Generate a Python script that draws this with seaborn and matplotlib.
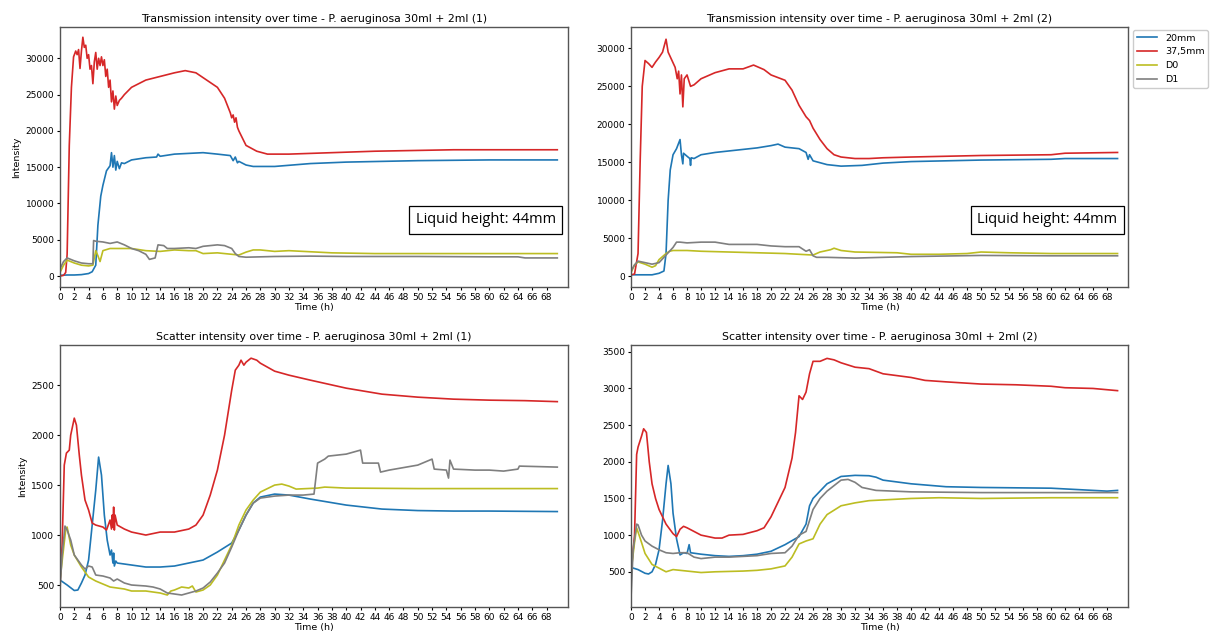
import pandas as pd
import seaborn as sns
import matplotlib
matplotlib.use("Agg")
import matplotlib.pyplot as plt

# ---- series labels / colours ----
series_names = ["20mm", "37,5mm", "D0", "D1"]
series_colors = ["#1f77b4", "#d62728", "#bcbd22", "#7f7f7f"]

# ---- Transmission (1) ----
tr1_20mm_t = [0, 1, 2, 3, 4, 4.5, 5, 5.3, 5.7, 6, 6.5, 7, 7.2, 7.4, 7.6, 7.8, 8, 8.3, 8.6, 9, 10, 12, 13.5, 13.7, 14, 16, 18, 20, 22, 23.8, 24.2, 24.5, 24.8, 25, 26, 27, 30, 35, 40, 50, 60, 69.5]
tr1_20mm_y = [100, 150, 150, 200, 350, 600, 1500, 7000, 11000, 12500, 14500, 15200, 17000, 15000, 16600, 14600, 15800, 14800, 15600, 15500, 16000, 16300, 16400, 16800, 16500, 16800, 16900, 17000, 16800, 16600, 15900, 16400, 15600, 15800, 15300, 15100, 15100, 15500, 15700, 15900, 16000, 16000]
tr1_375_t = [0, 0.5, 0.8, 1.0, 1.3, 1.6, 1.9, 2.2, 2.4, 2.6, 2.8, 3.0, 3.2, 3.4, 3.6, 3.8, 4.0, 4.2, 4.4, 4.6, 4.8, 5.0, 5.2, 5.4, 5.6, 5.8, 6.0, 6.2, 6.4, 6.6, 6.8, 7.0, 7.2, 7.4, 7.6, 7.8, 8.0, 8.3, 8.6, 9, 10, 12, 14, 16, 17.5, 19, 20.5, 22, 23, 23.8, 24.0, 24.2, 24.4, 24.6, 24.8, 25, 26, 27.5, 29, 32, 38, 44, 55, 69.5]
tr1_375_y = [0, 100, 500, 3000, 18000, 26000, 30200, 31000, 30500, 31200, 28600, 31000, 32900, 31500, 31800, 30000, 30500, 28500, 29000, 26500, 29500, 30800, 28500, 30000, 29000, 30200, 29000, 29800, 27500, 28500, 26000, 27000, 24000, 25500, 23000, 24800, 23500, 24200, 24500, 25000, 26000, 27000, 27500, 28000, 28300, 28000, 27000, 26000, 24500, 22500, 21800, 22200, 21200, 21800, 20500, 20000, 18000, 17200, 16800, 16800, 17000, 17200, 17400, 17400]
tr1_d0_t = [0, 0.5, 1, 2, 3, 4, 4.6, 5, 5.3, 5.6, 6, 7, 8, 10, 12, 14, 16, 18, 19, 20, 22, 24, 25, 26, 27, 28, 30, 32, 34, 38, 44, 50, 69.5]
tr1_d0_y = [500, 1500, 2200, 1800, 1500, 1400, 1500, 3500, 2800, 2000, 3500, 3800, 3800, 3800, 3500, 3400, 3600, 3500, 3500, 3100, 3200, 3000, 2900, 3300, 3600, 3600, 3400, 3500, 3400, 3200, 3100, 3100, 3100]
tr1_d1_t = [0, 0.5, 1, 2, 3, 4, 4.6, 4.7, 5, 6, 7, 8, 9, 10, 11, 12, 12.5, 13.3, 13.7, 14.5, 15, 16, 18, 19, 20, 22, 23, 24, 24.5, 25, 26, 30, 35, 40, 50, 60, 64, 65, 69.5]
tr1_d1_y = [1000, 2000, 2500, 2100, 1800, 1700, 1700, 4900, 4800, 4700, 4500, 4700, 4300, 3800, 3500, 3000, 2300, 2500, 4300, 4200, 3800, 3800, 3900, 3800, 4100, 4300, 4200, 3800, 3100, 2700, 2600, 2700, 2750, 2700, 2700, 2650, 2650, 2500, 2500]

# ---- Transmission (2) ----
tr2_20mm_t = [0, 3, 4, 4.7, 5, 5.3, 5.6, 6, 6.5, 7, 7.2, 7.4, 7.5, 8, 8.4, 8.5, 8.6, 9, 10, 12, 14, 16, 18, 20, 21, 22, 24, 25, 25.3, 25.5, 26, 28, 30, 33, 36, 40, 45, 50, 60, 62, 69.5]
tr2_20mm_y = [200, 200, 400, 700, 3000, 10000, 14000, 16000, 16800, 18000, 16000, 14800, 16200, 15800, 15500, 14600, 15600, 15500, 16000, 16300, 16500, 16700, 16900, 17200, 17400, 17000, 16800, 16300, 15400, 16000, 15200, 14700, 14500, 14600, 14900, 15100, 15200, 15300, 15400, 15500, 15500]
tr2_375_t = [0, 0.5, 1, 1.3, 1.6, 2, 2.5, 3, 3.5, 4, 4.5, 5, 5.3, 5.8, 6.3, 6.6, 6.8, 7.0, 7.2, 7.4, 7.6, 8, 8.5, 9, 10, 12, 14, 16, 17.5, 19, 20, 22, 23, 24, 25, 25.5, 26, 27, 28, 29, 30, 32, 34, 36, 40, 50, 60, 62, 69.5]
tr2_375_y = [200, 300, 3000, 15000, 25000, 28400, 28000, 27500, 28200, 28800, 29500, 31200, 29500, 28500, 27500, 26000, 27000, 24000, 26500, 22300, 26000, 26500, 25000, 25200, 26000, 26800, 27300, 27300, 27800, 27200, 26500, 25800, 24500, 22500, 21000, 20500, 19500, 18000, 16800, 16000, 15700, 15500, 15500, 15600, 15700, 15900, 16000, 16200, 16300]
tr2_d0_t = [0, 0.5, 1, 2, 3, 3.5, 4, 5, 5.5, 6, 8, 10, 14, 18, 22, 24, 26, 27, 28.5, 29, 30, 32, 38, 40, 44, 48, 50, 54, 60, 69.5]
tr2_d0_y = [500, 1500, 1900, 1600, 1200, 1400, 2200, 3000, 3300, 3400, 3400, 3300, 3200, 3100, 3000, 2900, 2800, 3200, 3500, 3700, 3400, 3200, 3100, 2900, 2900, 3000, 3200, 3100, 3000, 3000]
tr2_d1_t = [0, 0.5, 1, 2, 3, 4, 5, 6, 6.5, 7, 8, 10, 12, 14, 18, 20, 22, 24, 25, 25.5, 26, 26.5, 28, 32, 36, 40, 50, 60, 69.5]
tr2_d1_y = [700, 1500, 2000, 1800, 1600, 1800, 2800, 3800, 4500, 4500, 4400, 4500, 4500, 4200, 4200, 4000, 3900, 3900, 3300, 3500, 2700, 2500, 2500, 2400, 2500, 2600, 2750, 2700, 2700]

# ---- Scatter (1) ----
sc1_20mm_t = [0, 1, 2, 2.5, 3, 3.5, 4, 4.5, 5, 5.4, 5.8, 6.2, 6.6, 7, 7.2, 7.4, 7.5, 7.6, 7.8, 8, 10, 12, 14, 16, 18, 20, 22, 24, 25, 26, 27, 28, 30, 32, 35, 40, 45, 50, 55, 60, 69.5]
sc1_20mm_y = [550, 500, 445, 450, 520, 600, 750, 1100, 1450, 1780, 1600, 1200, 950, 800, 850, 720, 820, 690, 740, 720, 700, 680, 680, 690, 720, 750, 830, 920, 1050, 1200, 1320, 1380, 1410, 1400, 1360, 1300, 1260, 1245, 1240, 1240, 1235]
sc1_375_t = [0, 0.3, 0.6, 0.9, 1.3, 1.5, 2.0, 2.3, 2.7, 3.0, 3.5, 4, 4.5, 5, 6, 6.5, 7, 7.2, 7.3, 7.4, 7.5, 7.6, 7.7, 8, 9, 10, 12, 14, 16, 18, 19, 20, 21, 22, 23, 24, 24.5, 25, 25.3, 25.7, 26, 26.7, 27.5, 28, 30, 32, 35, 40, 45, 50, 55, 60, 65, 69.5]
sc1_375_y = [500, 900, 1700, 1820, 1850, 2000, 2170, 2100, 1800, 1600, 1350, 1250, 1120, 1100, 1080, 1050, 1150, 1060, 1200, 1080, 1280, 1050, 1200, 1100, 1060, 1030, 1000, 1030, 1030, 1060, 1100, 1200, 1400, 1650, 2000, 2450, 2650, 2700, 2750, 2700, 2730, 2770, 2750, 2720, 2640, 2600, 2550, 2470, 2410, 2380, 2360, 2350, 2345, 2335]
sc1_d0_t = [0, 0.4, 0.8, 1, 1.5, 2, 3, 4, 5, 6, 7, 8, 9, 10, 12, 14, 15, 15.5, 16, 17, 18, 18.5, 19, 20, 21, 22, 23, 24, 25, 26, 27, 28, 30, 31, 32, 33, 36, 37, 40, 50, 60, 69.5]
sc1_d0_y = [550, 800, 1050, 1080, 900, 800, 680, 580, 540, 510, 480, 470, 460, 440, 440, 420, 400, 440, 450, 480, 470, 490, 430, 450, 500, 600, 750, 900, 1100, 1250, 1350, 1430, 1500, 1510, 1490, 1460, 1470, 1480, 1470, 1465, 1465, 1465]
sc1_d1_t = [0, 0.3, 0.7, 1, 1.5, 2, 3, 3.5, 4, 4.5, 5, 6, 7, 7.5, 8, 9, 10, 12, 13, 14, 15, 16, 17, 18, 19, 20, 21, 22, 23, 24, 25, 26, 27, 28, 30, 32, 34, 35.5, 36, 37, 37.5, 40, 42, 42.3, 44.5, 44.8, 46, 50, 52, 52.3, 54, 54.3, 54.5, 55, 58, 60, 62, 64, 64.2, 69.5]
sc1_d1_y = [450, 800, 1090, 1050, 950, 800, 700, 660, 690, 680, 600, 590, 570, 540, 560, 520, 500, 490, 480, 460, 420, 410, 400, 420, 440, 470, 530, 620, 720, 880, 1050, 1200, 1320, 1370, 1390, 1400, 1400, 1410, 1720, 1760, 1790, 1810, 1850, 1720, 1720, 1630, 1650, 1700, 1760, 1660, 1650, 1570, 1750, 1660, 1650, 1650, 1640, 1660, 1690, 1680]

# ---- Scatter (2) ----
sc2_20mm_t = [0, 1, 2, 2.5, 3, 3.5, 4, 4.5, 5, 5.3, 5.7, 6, 6.5, 7, 7.5, 8, 8.3, 8.5, 10, 12, 14, 16, 18, 20, 22, 24, 25, 25.5, 26, 28, 30, 32, 34, 35, 36, 40, 45, 50, 60, 62, 68, 69.5]
sc2_20mm_y = [560, 530, 480, 470, 500, 600, 800, 1200, 1700, 1950, 1700, 1300, 950, 730, 760, 750, 870, 760, 740, 720, 710, 720, 740, 780, 870, 980, 1150, 1400, 1500, 1700, 1800, 1815, 1810, 1790, 1750, 1700, 1660, 1650, 1640, 1630, 1600, 1610]
sc2_375_t = [0, 0.5, 0.8, 1, 1.5, 1.8, 2.2, 2.6, 3, 3.5, 4, 5, 6, 6.5, 7, 7.5, 8, 9, 10, 12, 13, 14, 16, 18, 19, 20, 21, 22, 23, 23.5, 24, 24.5, 25, 25.5, 26, 27, 28, 29, 30, 32, 34, 36, 40, 42, 45, 50, 55, 60, 62, 66, 69.5]
sc2_375_y = [500, 1000, 2100, 2200, 2350, 2450, 2400, 2000, 1700, 1500, 1350, 1150, 1020, 980, 1080, 1120, 1100, 1050, 1000, 960, 960, 1000, 1010, 1060, 1100, 1250, 1450, 1650, 2050, 2400, 2900, 2850, 2950, 3200, 3370, 3370, 3410, 3390, 3350, 3290, 3270, 3200, 3150, 3110, 3090, 3060, 3050, 3030, 3010, 3000, 2970]
sc2_d0_t = [0, 0.5, 0.8, 1.5, 2, 3, 4, 5, 6, 8, 10, 12, 16, 18, 20, 22, 23, 24, 25, 26, 27, 28, 30, 32, 34, 36, 40, 44, 50, 60, 69.5]
sc2_d0_y = [500, 900, 1100, 900, 750, 600, 550, 500, 530, 510, 490, 500, 510, 520, 540, 580, 700, 880, 920, 950, 1150, 1280, 1400, 1440, 1470, 1480, 1500, 1510, 1500, 1510, 1510]
sc2_d1_t = [0, 0.3, 0.8, 1, 1.5, 2, 3, 4, 5, 6, 7, 8, 9, 10, 12, 14, 16, 18, 20, 22, 23, 24, 25, 26, 27, 28, 30, 31, 32, 33, 35, 40, 50, 60, 69.5]
sc2_d1_y = [150, 800, 1150, 1140, 1000, 920, 850, 800, 760, 750, 760, 760, 700, 680, 700, 700, 710, 720, 750, 760, 850, 1000, 1050, 1350, 1500, 1600, 1750, 1760, 1720, 1650, 1610, 1590, 1580, 1580, 1580]

x_ticks = list(range(0, 70, 2))

panels = [
    ("Transmission intensity over time - P. aeruginosa 30ml + 2ml (1)",
     [(tr1_20mm_t, tr1_20mm_y), (tr1_375_t, tr1_375_y), (tr1_d0_t, tr1_d0_y), (tr1_d1_t, tr1_d1_y)],
     (-1500, 34300), True),
    ("Transmission intensity over time - P. aeruginosa 30ml + 2ml (2)",
     [(tr2_20mm_t, tr2_20mm_y), (tr2_375_t, tr2_375_y), (tr2_d0_t, tr2_d0_y), (tr2_d1_t, tr2_d1_y)],
     (-1400, 32800), True),
    ("Scatter intensity over time - P. aeruginosa 30ml + 2ml (1)",
     [(sc1_20mm_t, sc1_20mm_y), (sc1_375_t, sc1_375_y), (sc1_d0_t, sc1_d0_y), (sc1_d1_t, sc1_d1_y)],
     (280, 2900), False),
    ("Scatter intensity over time - P. aeruginosa 30ml + 2ml (2)",
     [(sc2_20mm_t, sc2_20mm_y), (sc2_375_t, sc2_375_y), (sc2_d0_t, sc2_d0_y), (sc2_d1_t, sc2_d1_y)],
     (20, 3590), False),
]

# axes boxes in figure fractions [left, bottom, width, height]
boxes = [
    [0.0494, 0.5495, 0.4185, 0.408],
    [0.5198, 0.5495, 0.4094, 0.408],
    [0.0494, 0.0471, 0.4185, 0.411],
    [0.5198, 0.0471, 0.4094, 0.411],
]

fig = plt.figure(figsize=(12.14, 6.37), dpi=100)

for i, (title, data, ylim, liquid_box) in enumerate(panels):
    ax = fig.add_axes(boxes[i])
    for (tt, yy), name, col in zip(data, series_names, series_colors):
        df = pd.DataFrame({"Time (h)": tt, "Intensity": yy})
        sns.lineplot(data=df, x="Time (h)", y="Intensity", ax=ax, color=col,
                     linewidth=1.2, estimator=None, sort=False, label=name)
    ax.set_xlim(0, 71)
    ax.set_ylim(*ylim)
    ax.set_xticks(x_ticks)
    ax.tick_params(labelsize=6.5, length=2.5, pad=1.5)
    ax.set_title(title, fontsize=7.8, pad=4)
    ax.set_xlabel("Time (h)", fontsize=6.8, labelpad=1)
    if i % 2 == 0:
        ax.set_ylabel("Intensity", fontsize=6.8, labelpad=3)
    else:
        ax.set_ylabel("")
    for sp in ax.spines.values():
        sp.set_color("#555555")
        sp.set_linewidth(1.0)
    if liquid_box:
        ax.text(0.838, 0.258, "Liquid height: 44mm", transform=ax.transAxes,
                ha="center", va="center", fontsize=10.5, family="Open Sans",
                bbox=dict(boxstyle="square,pad=0.45", facecolor="white",
                          edgecolor="black", linewidth=0.9))
    if i == 1:
        ax.legend(loc="upper left", bbox_to_anchor=(1.004, 1.0), fontsize=6.8,
                  handlelength=2.2, borderaxespad=0.3, framealpha=1.0)
    else:
        ax.get_legend().remove()

fig.savefig("out.png", dpi=100)
